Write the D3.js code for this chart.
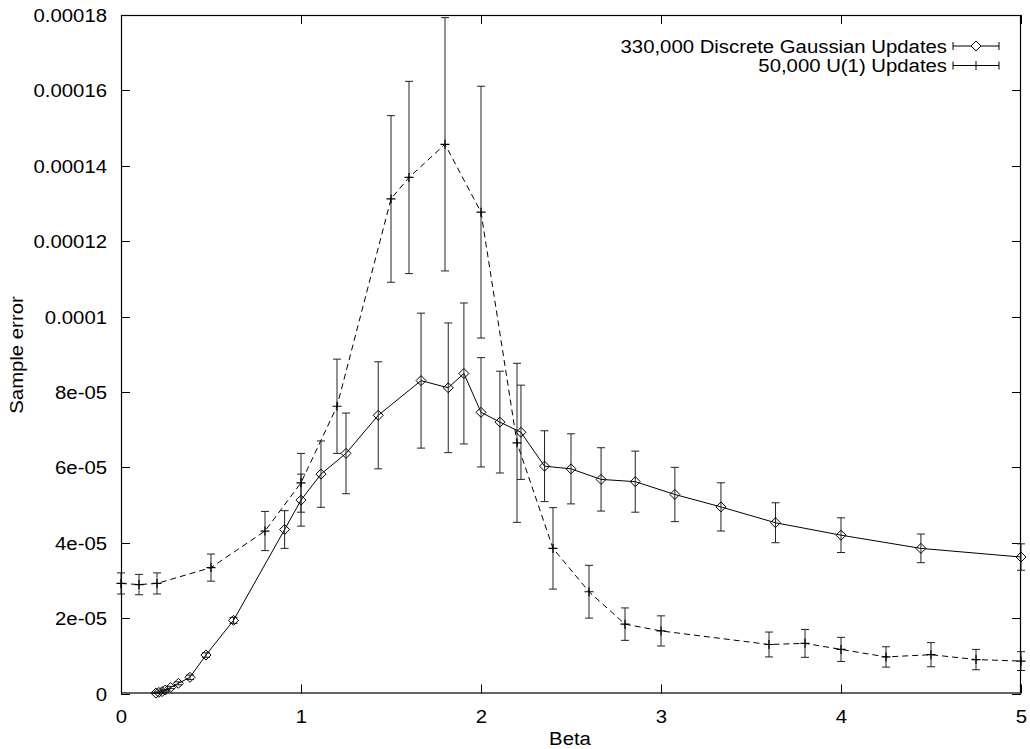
<!DOCTYPE html>
<html>
<head>
<meta charset="utf-8">
<script src="https://cdn.jsdelivr.net/npm/d3@7"></script>
<style>
  html, body { margin: 0; padding: 0; background: #fff; }
  svg text { font-family: "Liberation Sans", Arial, Helvetica, sans-serif; font-size: 18px; fill: #000; }
</style>
</head>
<body>
<svg id="chart" width="1030" height="749"></svg>
<script>
(function () {
  'use strict';

  // ── Data (values in units of 1e-6) ─────────────────────
  var gaussBeta = [0.194, 0.21, 0.228, 0.246, 0.276, 0.319, 0.383, 0.472, 0.625, 0.909, 1.0, 1.111, 1.25, 1.429,
    1.667, 1.818, 1.905, 2.0, 2.105, 2.222, 2.353, 2.5, 2.667, 2.857, 3.077, 3.333, 3.636, 4.0, 4.444, 5.0];
  var gaussErr = [0.1, 0.3, 0.5, 0.9, 1.6, 2.7, 4.3, 10.2, 19.4, 43.5, 51.3, 58.2, 63.7, 73.8,
    83.0, 81.1, 84.9, 74.6, 72.0, 69.3, 60.3, 59.6, 56.8, 56.2, 52.8, 49.5, 45.3, 42.0, 38.5, 36.2];
  var gaussDev = [0.1, 0.1, 0.15, 0.2, 0.3, 0.4, 0.6, 0.6, 0.8, 5.0, 6.9, 8.8, 10.7, 14.2,
    17.9, 17.2, 18.7, 14.5, 13.5, 12.5, 9.4, 9.3, 8.4, 8.1, 7.2, 6.4, 5.3, 4.6, 3.8, 3.5];

  var u1Beta = [0, 0.1, 0.2, 0.5, 0.8, 1.0, 1.2, 1.5, 1.6, 1.8, 2.0, 2.2, 2.4, 2.6, 2.8, 3.0,
    3.6, 3.8, 4.0, 4.25, 4.5, 4.75, 5.0];
  var u1Err = [29.2, 28.9, 29.2, 33.4, 43.1, 55.9, 76.2, 131.2, 136.9, 145.7, 127.7, 66.5, 38.5, 27.0, 18.4, 16.6,
    13.0, 13.3, 11.7, 9.7, 10.3, 9.0, 8.6];
  var u1Dev = [2.8, 2.7, 2.8, 3.6, 5.2, 7.8, 12.5, 22.1, 25.5, 33.6, 33.4, 21.1, 10.8, 7.0, 4.3, 4.0,
    3.3, 3.7, 3.2, 2.7, 3.2, 2.7, 2.5];

  var xTicks = [0, 1, 2, 3, 4, 5];
  var yTicks = [0, 2e-5, 4e-5, 6e-5, 8e-5, 1e-4, 1.2e-4, 1.4e-4, 1.6e-4, 1.8e-4];
  var yTickLabels = ['0', '2e-05', '4e-05', '6e-05', '8e-05', '0.0001', '0.00012', '0.00014', '0.00016', '0.00018'];

  var legendLabels = ['330,000 Discrete Gaussian Updates', '50,000 U(1) Updates'];

  function rows(beta, val, dev) {
    return beta.map(function (b, i) { return { x: b, y: val[i] * 1e-6, e: dev[i] * 1e-6 }; });
  }
  var gauss = rows(gaussBeta, gaussErr, gaussDev);
  var u1 = rows(u1Beta, u1Err, u1Dev);

  // ── Layout ─────────────────────────────────────────────
  var L = 121, R = 1021, T = 15, B = 693.5;
  var TX = 1.13; // horizontal stretch of the text

  var svg = d3.select('#chart');
  svg.append('rect').attr('width', 1030).attr('height', 749).attr('fill', '#fff');

  var x = d3.scaleLinear().domain([0, 5]).range([L, R]);
  var y = d3.scaleLinear().domain([0, 0.00018]).range([B, T]);

  function stretchedText(px, py, str, anchor) {
    return svg.append('text')
      .attr('transform', 'translate(' + px + ',' + py + ') scale(' + TX + ',1)')
      .attr('text-anchor', anchor)
      .text(str);
  }

  // axes: inward ticks, mirrored on all sides
  var tk = 9;
  var axisG = svg.append('g').attr('stroke', '#000').attr('stroke-width', 1);
  yTicks.forEach(function (v, i) {
    var py = Math.round(y(v)) + 0.5;
    axisG.append('line').attr('x1', L).attr('x2', L + tk).attr('y1', py).attr('y2', py);
    axisG.append('line').attr('x1', R - tk).attr('x2', R).attr('y1', py).attr('y2', py);
    stretchedText(107, py + 6.5, yTickLabels[i], 'end');
  });
  xTicks.forEach(function (v) {
    var px = Math.round(x(v)) + 0.5;
    axisG.append('line').attr('x1', px).attr('x2', px).attr('y1', B).attr('y2', B - tk);
    axisG.append('line').attr('x1', px).attr('x2', px).attr('y1', T).attr('y2', T + tk);
    stretchedText(px, 723, String(v), 'middle');
  });
  svg.append('rect')
    .attr('x', L + 0.5).attr('y', T + 0.5)
    .attr('width', R - L - 1).attr('height', B - T - 1)
    .attr('fill', 'none').attr('stroke', '#000').attr('stroke-width', 1.2);

  stretchedText(570, 745, 'Beta', 'middle');
  svg.append('text')
    .attr('transform', 'translate(23,355) rotate(-90) scale(' + TX + ',1)')
    .attr('text-anchor', 'middle')
    .text('Sample error');

  // ── Lines ──────────────────────────────────────────────
  var line = d3.line().x(function (d) { return x(d.x); }).y(function (d) { return y(d.y); });

  svg.append('path').datum(u1)
    .attr('d', line).attr('fill', 'none').attr('stroke', '#000')
    .attr('stroke-width', 1).attr('stroke-dasharray', '6,4');
  svg.append('path').datum(gauss)
    .attr('d', line).attr('fill', 'none').attr('stroke', '#000').attr('stroke-width', 1);

  // ── Error bars ─────────────────────────────────────────
  var cap = 4;
  function errorBars(data, cls) {
    var g = svg.append('g').attr('class', cls).attr('stroke', '#222').attr('stroke-width', 1);
    var sel = g.selectAll('g').data(data).enter().append('g');
    sel.append('line')
      .attr('x1', function (d) { return x(d.x); }).attr('x2', function (d) { return x(d.x); })
      .attr('y1', function (d) { return y(d.y + d.e); }).attr('y2', function (d) { return y(d.y - d.e); });
    sel.append('line')
      .attr('x1', function (d) { return x(d.x) - cap; }).attr('x2', function (d) { return x(d.x) + cap; })
      .attr('y1', function (d) { return y(d.y + d.e); }).attr('y2', function (d) { return y(d.y + d.e); });
    sel.append('line')
      .attr('x1', function (d) { return x(d.x) - cap; }).attr('x2', function (d) { return x(d.x) + cap; })
      .attr('y1', function (d) { return y(d.y - d.e); }).attr('y2', function (d) { return y(d.y - d.e); });
  }
  errorBars(u1, 'err-u1');
  errorBars(gauss, 'err-gauss');

  // ── Markers ────────────────────────────────────────────
  var ds = 5;
  function diamond(cx, cy) {
    return 'M' + cx + ',' + (cy - ds) + 'L' + (cx + ds) + ',' + cy + 'L' + cx + ',' + (cy + ds) + 'L' + (cx - ds) + ',' + cy + 'Z';
  }
  var ps = 4.5;
  function plus(cx, cy) {
    return 'M' + (cx - ps) + ',' + cy + 'H' + (cx + ps) + 'M' + cx + ',' + (cy - ps) + 'V' + (cy + ps);
  }

  svg.append('g').selectAll('path').data(u1).enter().append('path')
    .attr('d', function (d) { return plus(x(d.x), y(d.y)); })
    .attr('stroke', '#000').attr('stroke-width', 1.2).attr('fill', 'none');
  svg.append('g').selectAll('path').data(gauss).enter().append('path')
    .attr('d', function (d) { return diamond(x(d.x), y(d.y)); })
    .attr('stroke', '#000').attr('stroke-width', 1).attr('fill', 'none');

  // ── Legend ─────────────────────────────────────────────
  var legRows = [
    { label: legendLabels[0], cy: 46, mark: diamond },
    { label: legendLabels[1], cy: 65.5, mark: plus }
  ];
  legRows.forEach(function (r) {
    stretchedText(947, r.cy + 6.5, r.label, 'end');
    var g = svg.append('g').attr('stroke', '#000').attr('stroke-width', 1).attr('fill', 'none');
    g.append('line').attr('x1', 953).attr('x2', 999).attr('y1', r.cy).attr('y2', r.cy);
    g.append('line').attr('x1', 953).attr('x2', 953).attr('y1', r.cy - 4).attr('y2', r.cy + 4);
    g.append('line').attr('x1', 999).attr('x2', 999).attr('y1', r.cy - 4).attr('y2', r.cy + 4);
    g.append('path').attr('d', r.mark(976, r.cy)).attr('fill', '#fff');
  });
})();
</script>
</body>
</html>
